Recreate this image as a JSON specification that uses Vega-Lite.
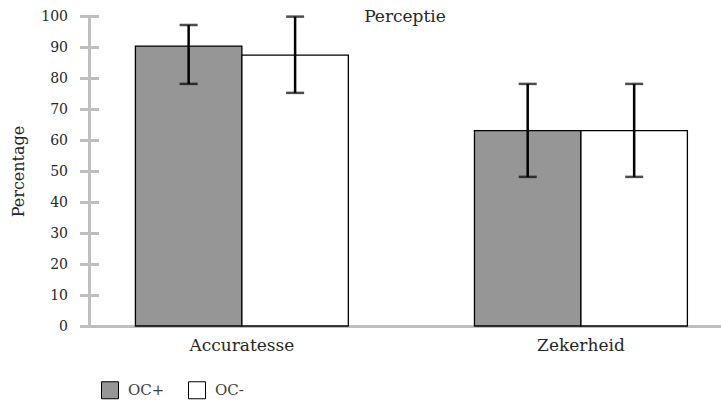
{
  "$schema": "https://vega.github.io/schema/vega-lite/v6.json",
  "autosize": "none",
  "width": 632,
  "height": 310,
  "padding": {"left": 89, "top": 16, "right": 0, "bottom": 76},
  "background": "white",
  "config": {
    "view": {"stroke": null},
    "font": "DejaVu Serif",
    "axis": {"grid": false}
  },
  "title": {
    "text": "Perceptie",
    "frame": "group",
    "anchor": "middle",
    "orient": "top",
    "offset": -17,
    "fontSize": 17,
    "fontWeight": "normal",
    "color": "#262626",
    "font": "DejaVu Serif"
  },
  "data": {
    "values": [
      {"cat": "Accuratesse", "group": "OC+", "mean": 90.3, "lo": 78.1, "hi": 97.1},
      {"cat": "Accuratesse", "group": "OC-", "mean": 87.4, "lo": 75.2, "hi": 99.8},
      {"cat": "Zekerheid", "group": "OC+", "mean": 63.0, "lo": 48.1, "hi": 78.1},
      {"cat": "Zekerheid", "group": "OC-", "mean": 63.0, "lo": 48.1, "hi": 78.1}
    ]
  },
  "encoding": {
    "x": {
      "field": "cat",
      "type": "nominal",
      "sort": null,
      "scale": {"paddingInner": 0.372, "paddingOuter": 0.118, "align": 0.58},
      "axis": {
        "title": null,
        "labelAngle": 0,
        "ticks": false,
        "domainColor": "#bfbfbf",
        "domainWidth": 3,
        "labelFontSize": 17,
        "labelColor": "#262626",
        "labelPadding": 11,
        "labelFont": "DejaVu Serif"
      }
    },
    "xOffset": {
      "field": "group",
      "type": "nominal",
      "sort": ["OC+", "OC-"],
      "scale": {"paddingInner": 0, "paddingOuter": 0}
    }
  },
  "layer": [
    {
      "mark": {"type": "bar", "stroke": "black", "strokeWidth": 1.3},
      "encoding": {
        "y": {
          "field": "mean",
          "type": "quantitative",
          "scale": {"domain": [0, 100], "nice": false},
          "axis": {
            "orient": "left",
            "title": null,
            "labels": false,
            "ticks": false,
            "domain": true,
            "domainColor": "#bfbfbf",
            "domainWidth": 3
          }
        },
        "fill": {
          "field": "group",
          "type": "nominal",
          "sort": ["OC+", "OC-"],
          "scale": {"domain": ["OC+", "OC-"], "range": ["#969696", "#ffffff"]},
          "legend": {
            "title": null,
            "orient": "none",
            "direction": "horizontal",
            "legendX": 12,
            "legendY": 365,
            "symbolType": "square",
            "symbolSize": 289,
            "symbolStrokeColor": "black",
            "symbolStrokeWidth": 1,
            "labelFontSize": 15,
            "labelColor": "#404040",
            "labelFont": "DejaVu Serif",
            "labelOffset": 9,
            "columnPadding": 21
          }
        }
      }
    },
    {
      "mark": {"type": "rule", "color": "black", "strokeWidth": 2.5},
      "encoding": {
        "y": {
          "field": "lo",
          "type": "quantitative",
          "axis": {
            "orient": "left",
            "title": "Percentage",
            "titleFontSize": 16,
            "titleFontWeight": "normal",
            "titleColor": "#262626",
            "titleFont": "DejaVu Serif",
            "titlePadding": 14,
            "domain": false,
            "ticks": true,
            "tickSize": 19,
            "tickWidth": 3,
            "tickColor": "#bfbfbf",
            "offset": -9.5,
            "values": [0, 10, 20, 30, 40, 50, 60, 70, 80, 90, 100],
            "labelFontSize": 14,
            "labelColor": "#262626",
            "labelFont": "DejaVu Serif",
            "labelPadding": 12
          }
        },
        "y2": {"field": "hi"}
      }
    },
    {
      "mark": {"type": "tick", "color": "black", "thickness": 2.5, "size": 18},
      "encoding": {
        "y": {"field": "lo", "type": "quantitative", "axis": null}
      }
    },
    {
      "mark": {"type": "tick", "color": "black", "thickness": 2.5, "size": 18},
      "encoding": {
        "y": {"field": "hi", "type": "quantitative", "axis": null}
      }
    }
  ],
  "resolve": {"axis": {"y": "independent"}}
}
